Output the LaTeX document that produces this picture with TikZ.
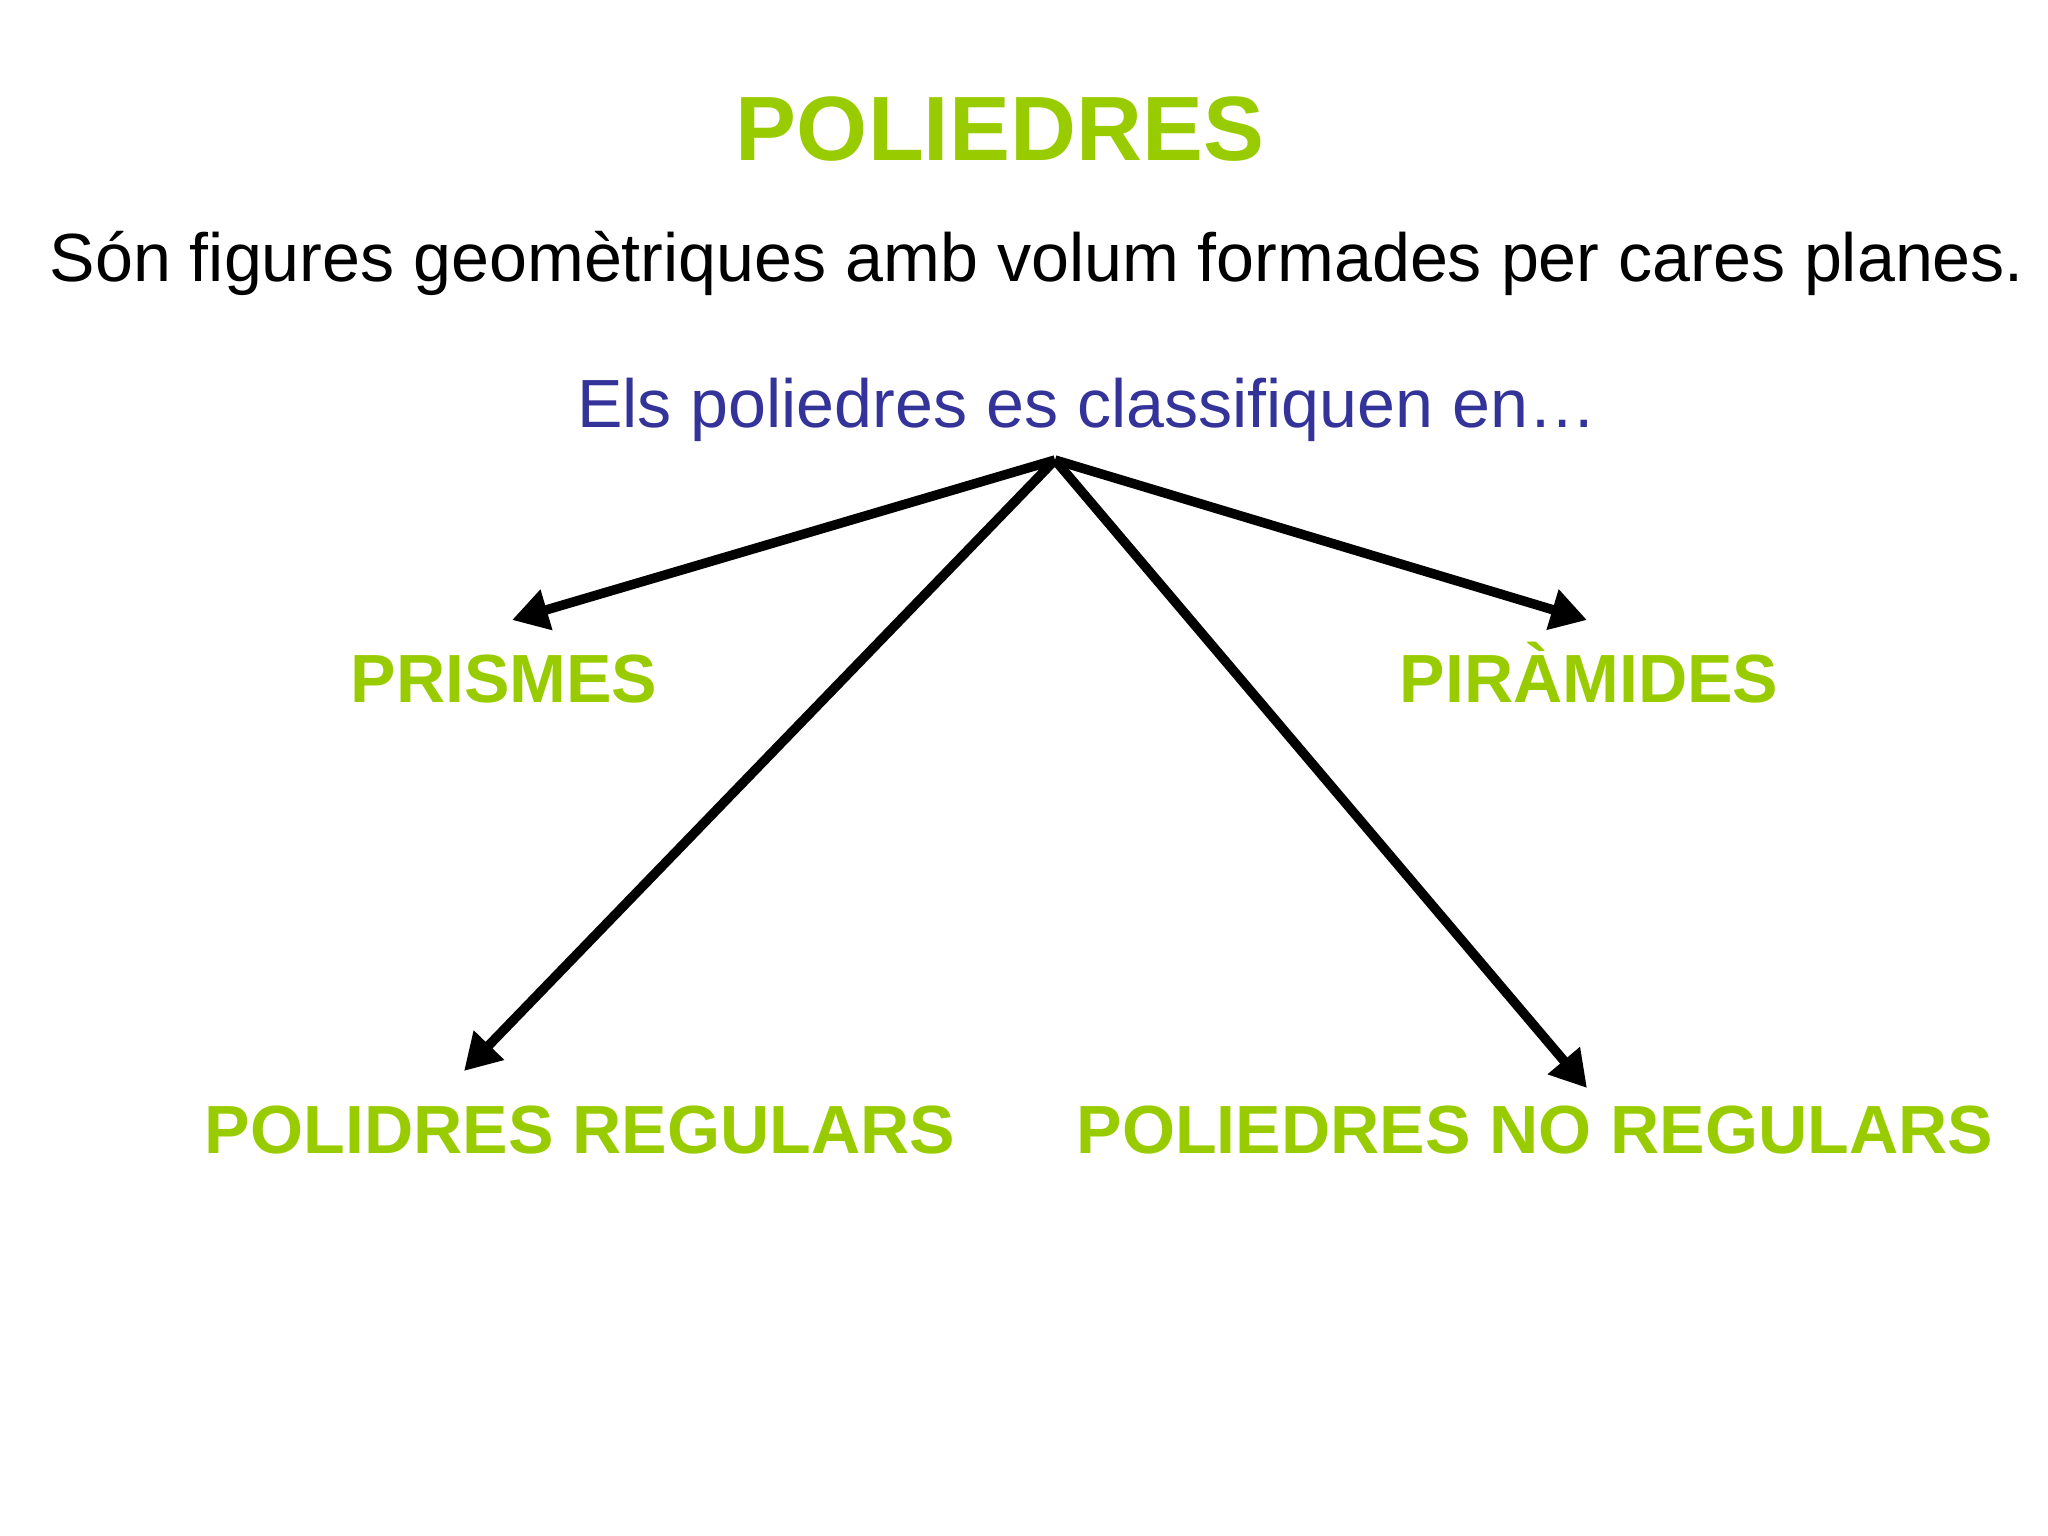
\documentclass[tikz,border=0pt]{standalone}
\usepackage{fontspec}
\setmainfont{Liberation Sans}
\usetikzlibrary{arrows.meta}
\definecolor{lime}{HTML}{99CC00}
\definecolor{navy}{HTML}{333399}
\begin{document}
\begin{tikzpicture}
\useasboundingbox (0,0) rectangle (20.48,-15.36);
\tikzset{cat/.style={anchor=base,text=lime,font=\fontsize{19.4}{24}\selectfont\bfseries},
arr/.style={line width=0.095cm,-{Triangle[length=0.36cm,width=0.4cm]}}}
\node[anchor=base,text=lime,font=\fontsize{26}{31}\selectfont\bfseries] (t) at (10.0,-1.61) {POLIEDRES};
\node[anchor=base,font=\fontsize{19.4}{23}\selectfont] (s) at (10.37,-2.82) {Són figures geomètriques amb volum formades per cares planes.};
\node[anchor=base,text=navy,font=\fontsize{19.4}{23}\selectfont] (e) at (10.87,-4.28) {Els poliedres es classifiquen en…};
\coordinate (a) at (10.55,-4.60);
\coordinate (p1) at (5.12,-6.20);
\coordinate (p2) at (4.64,-10.71);
\coordinate (p3) at (15.87,-6.20);
\coordinate (p4) at (15.87,-10.88);
\node[cat] (n1) at (5.04,-7.03) {PRISMES};
\node[cat] (n3) at (15.89,-7.03) {PIRÀMIDES};
\node[cat] (n2) at (5.80,-11.53) {POLIDRES REGULARS};
\node[cat] (n4) at (15.35,-11.53) {POLIEDRES NO REGULARS};
\draw[arr] (a) -- (p1);
\draw[arr] (a) -- (p2);
\draw[arr] (a) -- (p3);
\draw[arr] (a) -- (p4);
\end{tikzpicture}
\end{document}
